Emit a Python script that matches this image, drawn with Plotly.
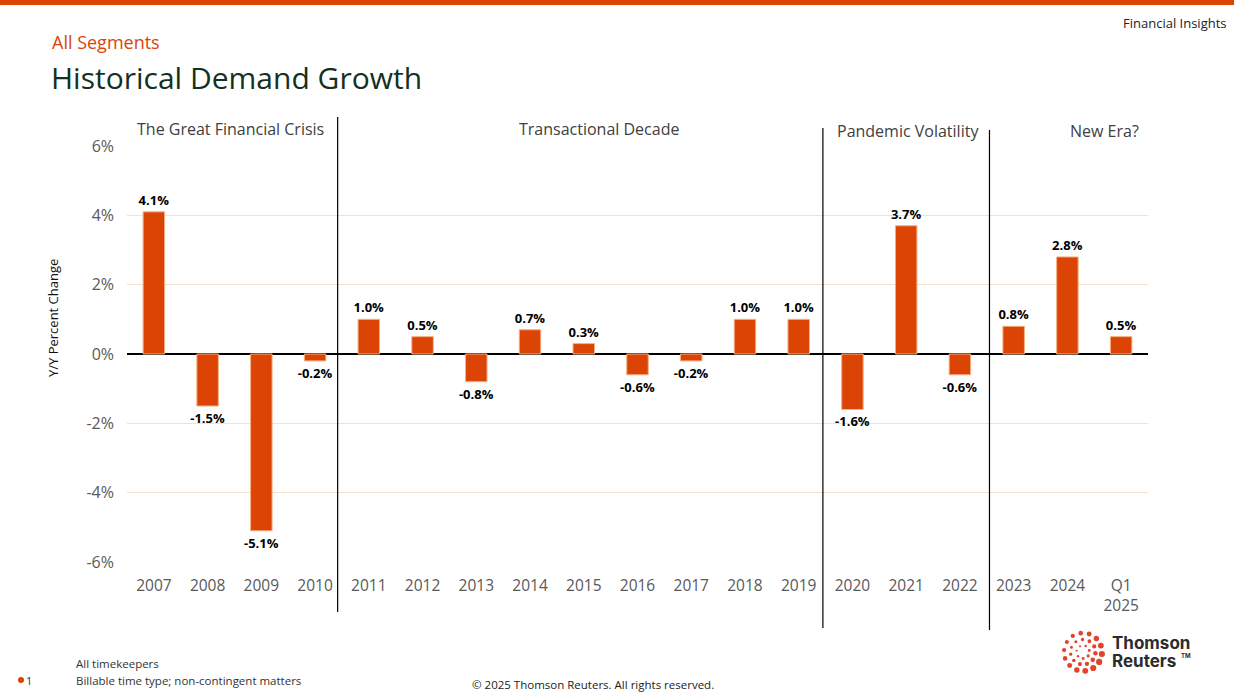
import math
import plotly.graph_objects as go

categories = ["2007", "2008", "2009", "2010", "2011", "2012", "2013", "2014", "2015", "2016",
              "2017", "2018", "2019", "2020", "2021", "2022", "2023", "2024", "Q1<br>2025"]
growth = [4.1, -1.5, -5.1, -0.2, 1.0, 0.5, -0.8, 0.7, 0.3, -0.6,
          -0.2, 1.0, 1.0, -1.6, 3.7, -0.6, 0.8, 2.8, 0.5]
y_ticks = [-6, -4, -2, 0, 2, 4, 6]
y_tick_labels = ["-6%", "-4%", "-2%", "0%", "2%", "4%", "6%"]
sections = ["The Great Financial Crisis", "Transactional Decade", "Pandemic Volatility", "New Era?"]

ORANGE = "#DC4405"
FONT = "Open Sans"
W, H = 1234, 695
L, R, T, B = 127, 86, 146, 133
PW, PH = W - L - R, H - T - B


def px(x):
    return (x - L) / PW


def py(y):
    return (H - B - y) / PH


fig = go.Figure()
fig.add_trace(go.Bar(
    x=list(range(len(categories))), y=growth,
    width=0.4,
    marker=dict(color=ORANGE, line=dict(color="#F4B183", width=1)),
    text=[f"{v:.1f}%" for v in growth],
    textposition="outside", cliponaxis=False, constraintext="none",
    textfont=dict(family=FONT, size=13, color="black", weight="bold"),
    hoverinfo="skip",
))

shapes = []
# top orange band
shapes.append(dict(type="rect", xref="paper", yref="paper", x0=px(0), x1=px(W),
                   y0=py(5), y1=py(0), fillcolor=ORANGE, line=dict(width=0), layer="above"))
# section separators
for xc, y0, y1 in [(3.42, 117, 612), (12.45, 128, 628), (15.55, 130, 630)]:
    shapes.append(dict(type="line", xref="x", yref="paper", x0=xc, x1=xc,
                       y0=py(y1), y1=py(y0), line=dict(color="black", width=1.2)))

# logo dots
cx, cy = 1083, 652
for r_ring, n, size in [(19, 14, 2.6), (12.5, 11, 1.9), (6.5, 7, 1.3)]:
    for k in range(n):
        a = 2 * math.pi * k / n + r_ring * 0.1
        sx = cx + r_ring * math.cos(a)
        sy = cy + r_ring * math.sin(a)
        s = size * (0.6 + 0.4 * (1 + math.sin(a + 1.0)) / 2 + 0.2)
        shapes.append(dict(type="circle", xref="paper", yref="paper",
                           x0=px(sx - s), x1=px(sx + s), y0=py(sy + s), y1=py(sy - s),
                           fillcolor="#E2432A", line=dict(width=0)))
# footnote dot
shapes.append(dict(type="circle", xref="paper", yref="paper",
                   x0=px(18), x1=px(24), y0=py(683), y1=py(677),
                   fillcolor=ORANGE, line=dict(width=0)))

ann = []


def text(x, y, s, size, color, xanchor="left", yanchor="middle", weight="normal", family=FONT, textangle=0):
    ann.append(dict(x=px(x), y=py(y), xref="paper", yref="paper", text=s, showarrow=False,
                    xanchor=xanchor, yanchor=yanchor, textangle=textangle,
                    font=dict(family=family, size=size, color=color, weight=weight)))


text(50, 42, "All Segments", 18, ORANGE)
text(49, 78, "Historical Demand Growth", 30, "#14301F")
text(1229, 23, "Financial Insights", 13, "#222222", xanchor="right")
text(230, 129, sections[0], 16, "#404040", xanchor="center")
text(599, 129, sections[1], 16, "#404040", xanchor="center")
text(908, 131, sections[2], 16, "#404040", xanchor="center")
text(1141, 131, sections[3], 16, "#404040", xanchor="right")
text(53, 318, "Y/Y Percent Change", 13, "#111111", xanchor="center", textangle=-90)
text(74, 663, "All timekeepers", 11.5, "#333333")
text(74, 680, "Billable time type; non-contingent matters", 11.5, "#333333")
text(24, 680, "1", 11, "#333333")
text(593, 684, "© 2025 Thomson Reuters. All rights reserved.", 11.5, "#222222", xanchor="center")
text(1110, 643, "Thomson", 17, "#2B2B2B", weight="bold", family="Inter")
text(1110, 661, "Reuters", 17, "#2B2B2B", weight="bold", family="Inter")
text(1179, 655, "TM", 6, "#2B2B2B", weight="bold", family="Inter")

fig.update_layout(
    width=W, height=H,
    margin=dict(l=L, r=R, t=T, b=B),
    paper_bgcolor="white", plot_bgcolor="white",
    showlegend=False,
    shapes=shapes, annotations=ann,
    xaxis=dict(tickmode="array", tickvals=list(range(len(categories))), ticktext=categories,
               range=[-0.5, len(categories) - 0.5], showgrid=False, showline=False, ticks="",
               ticklabelstandoff=12,
               tickfont=dict(family=FONT, size=15.5, color="#595959"), fixedrange=True),
    yaxis=dict(range=[-6, 6], tickmode="array", tickvals=y_ticks, ticktext=y_tick_labels,
               showgrid=True, gridcolor="#F9E0CE", gridwidth=1,
               zeroline=True, zerolinecolor="black", zerolinewidth=2,
               showline=False, ticks="", ticklabelstandoff=12,
               tickfont=dict(family=FONT, size=16, color="#595959"), fixedrange=True),
)

fig.write_html("out.html", config={"displayModeBar": False},
               post_script="document.body.style.margin='0';document.body.style.overflow='hidden';")
